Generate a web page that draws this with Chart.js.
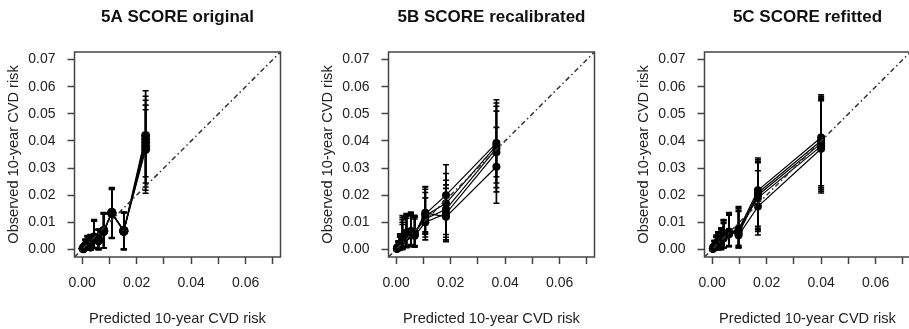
<!DOCTYPE html>
<html><head><meta charset="utf-8">
<script src="https://cdn.jsdelivr.net/npm/chart.js@4.4.1/dist/chart.umd.min.js"></script>
<style>
html,body{margin:0;padding:0;background:#fff;overflow:hidden;width:909px;height:329px;position:relative;}
.p{position:absolute;top:0;}
</style></head><body>
<div class="p" style="left:0px"><canvas id="cA" width="355" height="329"></canvas></div>
<div class="p" style="left:314px"><canvas id="cB" width="355" height="329"></canvas></div>
<div class="p" style="left:630px"><canvas id="cC" width="355" height="329"></canvas></div>
<script>
// ---- text ----
const titles = ['5A SCORE original', '5B SCORE recalibrated', '5C SCORE refitted'];
const xTitle = 'Predicted 10-year CVD risk';
const yTitle = 'Observed 10-year CVD risk';
const xTickVals = [0, 0.01, 0.02, 0.03, 0.04, 0.05, 0.06, 0.07];
const xTickLabels = ['0.00', '', '0.02', '', '0.04', '', '0.06', ''];
const yTickVals = [0, 0.01, 0.02, 0.03, 0.04, 0.05, 0.06, 0.07];
const yTickLabels = ['0.00', '0.01', '0.02', '0.03', '0.04', '0.05', '0.06', '0.07'];
const axisLimits = [-0.0028, 0.0728];
const diagonal = [-0.0028, 0.0728];

// ---- 5A SCORE original ----
const predA = [0.0004, 0.0012, 0.0020, 0.0031, 0.0044, 0.0060, 0.0079, 0.0109, 0.0153, 0.0233];
const obsA1 = [0.0003, 0.0014, 0.0020, 0.0010, 0.0045, 0.0034, 0.0068, 0.0137, 0.0068, 0.0420];
const obsA2 = [0.0004, 0.0012, 0.0017, 0.0009, 0.0043, 0.0032, 0.0066, 0.0134, 0.0066, 0.0406];
const obsA3 = [0.0002, 0.0015, 0.0019, 0.0011, 0.0046, 0.0035, 0.0069, 0.0132, 0.0069, 0.0393];
const obsA4 = [0.0003, 0.0013, 0.0018, 0.0010, 0.0044, 0.0033, 0.0067, 0.0136, 0.0067, 0.0380];
const obsA5 = [0.0004, 0.0011, 0.0021, 0.0012, 0.0042, 0.0036, 0.0070, 0.0133, 0.0070, 0.0368];
const loA1 = [0, 0, 0, 0, 0.0006, 0, 0.0005, 0.0044, 0, 0.0268];
const hiA1 = [0.0014, 0.0036, 0.0050, 0.0052, 0.0108, 0.0073, 0.0133, 0.0228, 0.0136, 0.0585];
const loA2 = [0, 0, 0, 0, 0.0005, 0, 0.0004, 0.0042, 0, 0.0245];
const hiA2 = [0.0015, 0.0034, 0.0046, 0.0050, 0.0105, 0.0071, 0.0130, 0.0224, 0.0134, 0.0565];
const loA3 = [0, 0, 0, 0, 0.0007, 0, 0.0006, 0.0040, 0, 0.0230];
const hiA3 = [0.0013, 0.0038, 0.0048, 0.0054, 0.0110, 0.0074, 0.0135, 0.0221, 0.0137, 0.0550];
const loA4 = [0, 0, 0, 0, 0.0005, 0, 0.0005, 0.0043, 0, 0.0218];
const hiA4 = [0.0014, 0.0035, 0.0047, 0.0051, 0.0106, 0.0072, 0.0132, 0.0226, 0.0135, 0.0532];
const loA5 = [0, 0, 0, 0, 0.0004, 0, 0.0006, 0.0041, 0, 0.0207];
const hiA5 = [0.0016, 0.0033, 0.0051, 0.0055, 0.0104, 0.0075, 0.0136, 0.0223, 0.0138, 0.0515];

// ---- 5B SCORE recalibrated ----
const predB = [0.0003, 0.0008, 0.0014, 0.0023, 0.0038, 0.0054, 0.0068, 0.0107, 0.0183, 0.0368];
const obsB1 = [0.0003, 0.0009, 0.0018, 0.0040, 0.0058, 0.0062, 0.0055, 0.0130, 0.0200, 0.0392];
const obsB2 = [0.0002, 0.0010, 0.0014, 0.0048, 0.0052, 0.0066, 0.0058, 0.0124, 0.0170, 0.0383];
const obsB3 = [0.0004, 0.0006, 0.0020, 0.0036, 0.0062, 0.0055, 0.0062, 0.0112, 0.0148, 0.0373];
const obsB4 = [0.0002, 0.0008, 0.0016, 0.0044, 0.0048, 0.0060, 0.0050, 0.0100, 0.0132, 0.0358];
const obsB5 = [0.0003, 0.0007, 0.0022, 0.0032, 0.0055, 0.0068, 0.0057, 0.0135, 0.0120, 0.0305];
const loB1 = [0, 0, 0, 0.0002, 0.0012, 0.0014, 0.0010, 0.0060, 0.0055, 0.0268];
const hiB1 = [0.0014, 0.0030, 0.0050, 0.0110, 0.0130, 0.0132, 0.0118, 0.0230, 0.0312, 0.0552];
const loB2 = [0, 0, 0, 0.0004, 0.0008, 0.0016, 0.0012, 0.0056, 0.0045, 0.0245];
const hiB2 = [0.0015, 0.0032, 0.0045, 0.0125, 0.0122, 0.0135, 0.0122, 0.0222, 0.0280, 0.0540];
const loB3 = [0, 0, 0, 0, 0.0014, 0.0010, 0.0014, 0.0046, 0.0035, 0.0228];
const hiB3 = [0.0013, 0.0025, 0.0055, 0.0100, 0.0132, 0.0124, 0.0126, 0.0210, 0.0255, 0.0528];
const loB4 = [0, 0, 0, 0.0003, 0.0006, 0.0012, 0.0008, 0.0035, 0.0030, 0.0212];
const hiB4 = [0.0014, 0.0030, 0.0048, 0.0118, 0.0115, 0.0130, 0.0112, 0.0190, 0.0238, 0.0510];
const loB5 = [0, 0, 0, 0, 0.0010, 0.0018, 0.0011, 0.0065, 0.0028, 0.0170];
const hiB5 = [0.0015, 0.0028, 0.0058, 0.0092, 0.0125, 0.0138, 0.0120, 0.0232, 0.0225, 0.0450];

// ---- 5C SCORE refitted ----
const predC = [0.0003, 0.0008, 0.0015, 0.0022, 0.0033, 0.0042, 0.0062, 0.0097, 0.0168, 0.0400];
const obsC1 = [0.0003, 0.0012, 0.0020, 0.0030, 0.0034, 0.0048, 0.0062, 0.0072, 0.0218, 0.0413];
const obsC2 = [0.0002, 0.0008, 0.0016, 0.0026, 0.0030, 0.0052, 0.0056, 0.0065, 0.0208, 0.0401];
const obsC3 = [0.0004, 0.0011, 0.0018, 0.0022, 0.0037, 0.0043, 0.0064, 0.0058, 0.0200, 0.0391];
const obsC4 = [0.0003, 0.0009, 0.0023, 0.0028, 0.0031, 0.0049, 0.0058, 0.0076, 0.0190, 0.0381];
const obsC5 = [0.0002, 0.0010, 0.0015, 0.0024, 0.0040, 0.0040, 0.0066, 0.0052, 0.0158, 0.0371];
const loC1 = [0, 0, 0, 0, 0, 0.0006, 0.0012, 0.0012, 0.0085, 0.0235];
const hiC1 = [0.0015, 0.0032, 0.0050, 0.0065, 0.0076, 0.0106, 0.0133, 0.0158, 0.0337, 0.0570];
const loC2 = [0, 0, 0, 0, 0, 0.0008, 0.0010, 0.0009, 0.0078, 0.0228];
const hiC2 = [0.0014, 0.0028, 0.0046, 0.0062, 0.0072, 0.0110, 0.0126, 0.0150, 0.0330, 0.0563];
const loC3 = [0, 0, 0, 0, 0.0002, 0.0005, 0.0014, 0.0006, 0.0072, 0.0222];
const hiC3 = [0.0016, 0.0034, 0.0048, 0.0058, 0.0078, 0.0100, 0.0134, 0.0143, 0.0324, 0.0558];
const loC4 = [0, 0, 0, 0, 0, 0.0007, 0.0011, 0.0015, 0.0066, 0.0215];
const hiC4 = [0.0013, 0.0030, 0.0053, 0.0064, 0.0074, 0.0108, 0.0128, 0.0155, 0.0320, 0.0553];
const loC5 = [0, 0, 0, 0, 0.0003, 0.0004, 0.0013, 0.0005, 0.0053, 0.0208];
const hiC5 = [0.0015, 0.0031, 0.0044, 0.0060, 0.0080, 0.0096, 0.0136, 0.0140, 0.0290, 0.0548];

const FONT = '"Liberation Sans", Arial, Helvetica, sans-serif';
Chart.defaults.font.family = FONT;
Chart.defaults.color = '#222';

const boxPlugin = {
  id: 'rbox',
  afterDraw(chart) {
    const a = chart.chartArea, ctx = chart.ctx;
    ctx.save();
    ctx.strokeStyle = '#444';
    ctx.lineWidth = 1.5;
    ctx.strokeRect(a.left, a.top, a.right - a.left, a.bottom - a.top);
    ctx.restore();
  }
};

function makePanel(id, title, pred, obsList, loList, hiList, radius) {
  const datasets = [{
    data: diagonal.map(v => ({x: v, y: v})),
    showLine: true, borderColor: '#333', borderWidth: 1.5,
    borderDash: [5, 3, 1.5, 3], pointRadius: 0
  }];
  obsList.forEach((obs, k) => {
    const eb = [];
    pred.forEach((x, i) => {
      eb.push({x: x, y: loList[k][i]}, {x: x, y: hiList[k][i]}, {x: x, y: null});
    });
    datasets.push({
      data: eb, showLine: true, spanGaps: false,
      borderColor: '#000', borderWidth: 1.7,
      pointStyle: 'line', pointRadius: 3, pointBorderWidth: 1.6,
      pointBorderColor: '#000', pointBackgroundColor: '#000'
    });
    datasets.push({
      data: pred.map((x, i) => ({x: x, y: obs[i]})),
      showLine: true, borderColor: '#000', borderWidth: 1.2,
      pointStyle: 'circle', pointRadius: radius,
      pointBackgroundColor: '#000', pointBorderColor: '#000', pointBorderWidth: 0
    });
  });
  const tickFont = {size: 14};
  new Chart(document.getElementById(id), {
    type: 'scatter',
    data: {datasets},
    plugins: [boxPlugin],
    options: {
      responsive: false, animation: false, events: [],
      layout: {padding: 0},
      plugins: {
        legend: {display: false}, tooltip: {enabled: false},
        title: {display: true, text: title, color: '#111',
          font: {size: 17, weight: 'bold'}, padding: {top: 7, bottom: 24.6}}
      },
      scales: {
        x: {
          type: 'linear', min: axisLimits[0], max: axisLimits[1],
          afterBuildTicks: s => { s.ticks = xTickVals.map(v => ({value: v})); },
          afterFit: s => { s.height = 72; },
          grid: {drawOnChartArea: false, drawTicks: true, tickLength: 7, tickWidth: 1.5, tickColor: '#444'},
          border: {display: false},
          ticks: {autoSkip: false, maxRotation: 0, padding: 11, font: tickFont, color: '#222',
            callback: (v, i) => xTickLabels[i]},
          title: {display: true, text: xTitle, font: {size: 14.6}, color: '#222', padding: {top: 0, bottom: 1.5}}
        },
        y: {
          type: 'linear', position: 'left', min: axisLimits[0], max: axisLimits[1],
          afterBuildTicks: s => { s.ticks = yTickVals.map(v => ({value: v})); },
          afterFit: s => { s.width = 74.5; },
          grid: {drawOnChartArea: false, drawTicks: true, tickLength: 7, tickWidth: 1.5, tickColor: '#444'},
          border: {display: false},
          ticks: {autoSkip: false, padding: 12, font: tickFont, color: '#222',
            callback: (v, i) => yTickLabels[i]},
          title: {display: true, text: yTitle, font: {size: 14.6}, color: '#222', padding: {top: 5.2, bottom: 0}}
        },
        yRight: {
          type: 'linear', position: 'right', min: axisLimits[0], max: axisLimits[1],
          afterFit: s => { s.width = 74.5; },
          grid: {display: false}, border: {display: false},
          ticks: {display: false}
        }
      }
    }
  });
}

makePanel('cA', titles[0], predA, [obsA1, obsA2, obsA3, obsA4, obsA5],
  [loA1, loA2, loA3, loA4, loA5], [hiA1, hiA2, hiA3, hiA4, hiA5], 4.5);
makePanel('cB', titles[1], predB, [obsB1, obsB2, obsB3, obsB4, obsB5],
  [loB1, loB2, loB3, loB4, loB5], [hiB1, hiB2, hiB3, hiB4, hiB5], 4);
makePanel('cC', titles[2], predC, [obsC1, obsC2, obsC3, obsC4, obsC5],
  [loC1, loC2, loC3, loC4, loC5], [hiC1, hiC2, hiC3, hiC4, hiC5], 4);
</script>
</body></html>
